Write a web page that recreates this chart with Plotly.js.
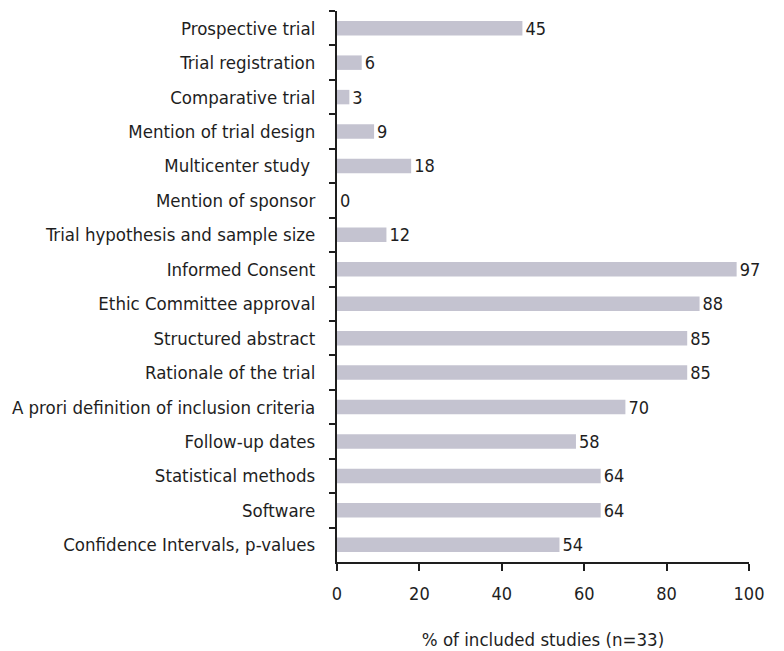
<!DOCTYPE html>
<html><head><meta charset="utf-8">
<script src="https://cdn.plot.ly/plotly-3.0.1.min.js"></script>
<style>body{margin:0;background:#fff}#c{width:784px;height:651px}</style>
</head><body><div id="c"></div>
<script>
const categories = ["Prospective trial","Trial registration","Comparative trial","Mention of trial design","Multicenter study ","Mention of sponsor","Trial hypothesis and sample size","Informed Consent","Ethic Committee approval","Structured abstract","Rationale of the trial","A prori definition of inclusion criteria","Follow-up dates","Statistical methods","Software","Confidence Intervals, p-values"];
const values = [45,6,3,9,18,0,12,97,88,85,85,70,58,64,64,54];
const xTickVals = [0,20,40,60,80,100];
const xTitle = "% of included studies (n=33)";
const F = "DejaVu Sans Condensed, sans-serif";
Plotly.newPlot("c",[{
  type:"bar", orientation:"h", x:values, y:categories,
  marker:{color:"#c4c3d0"}, width:0.42,
  text:values.map(String), textposition:"outside", cliponaxis:false, constraintext:"none",
  textfont:{family:F,size:18,color:"#1e1e1e"}, hoverinfo:"none"
}],{
  width:784,height:651,margin:{l:337,r:35,t:11,b:89},
  paper_bgcolor:"#fff",plot_bgcolor:"#fff",showlegend:false,
  font:{family:F,color:"#1e1e1e"},
  xaxis:{range:[0,100],tickvals:xTickVals,showgrid:false,zeroline:false,showline:true,linecolor:"#1e1e1e",linewidth:2,ticks:"outside",ticklen:7,tickwidth:2,tickcolor:"#1e1e1e",tickfont:{family:F,size:18,color:"#1e1e1e"},ticklabelstandoff:7,
    title:{text:xTitle,font:{family:F,size:18.5,color:"#1e1e1e"},standoff:30}},
  yaxis:{type:"category",autorange:"reversed",showgrid:false,zeroline:false,showline:true,linecolor:"#1e1e1e",linewidth:2,ticks:"outside",tickson:"boundaries",ticklen:6,tickwidth:2,tickcolor:"#1e1e1e",tickfont:{family:F,size:18.5,color:"#1e1e1e"},ticklabelstandoff:16}
},{staticPlot:true});
</script></body></html>
